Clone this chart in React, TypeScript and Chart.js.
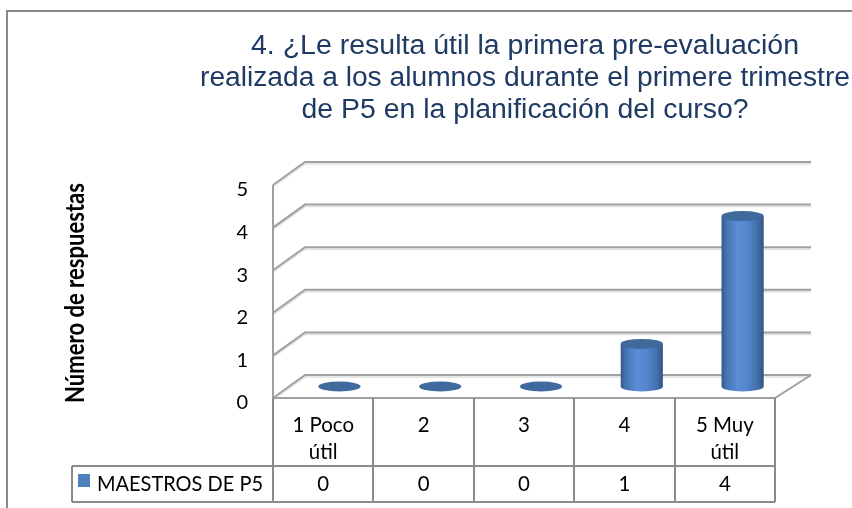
import React, { useEffect, useRef } from 'react';
import { Chart, registerables } from 'chart.js';

Chart.register(...registerables);

const TITLE_LINES = [
  '4. ¿Le resulta útil la primera pre-evaluación',
  'realizada a los alumnos durante el primere trimestre',
  'de P5 en la planificación del curso?',
];
const CATEGORIES = [['1 Poco', 'útil'], ['2'], ['3'], ['4'], ['5 Muy', 'útil']];
const SERIES_NAME = 'MAESTROS DE P5';
const VALUES = [0, 0, 0, 1, 4];
const Y_TICKS = [0, 1, 2, 3, 4, 5];
const Y_TITLE = 'Número de respuestas';

const DXL = 32;
const DXR = 36;
const DY = -23;

function fitText(ctx: CanvasRenderingContext2D, text: string, x: number, y: number, width: number | null, scaleX = 1) {
  const w = ctx.measureText(text).width;
  const s = width ? width / w : scaleX;
  ctx.save();
  ctx.translate(x, y);
  ctx.scale(s, 1);
  ctx.fillText(text, 0, 0);
  ctx.restore();
}

const excel3d = {
  id: 'excel3d',
  beforeDatasetsDraw(chart: any) {
    const { ctx, chartArea: a, scales } = chart;
    const y = scales.y;
    ctx.save();
    ctx.lineCap = 'butt';
    for (const v of Y_TICKS) {
      const yf = y.getPixelForValue(v);
      const yb = yf + DY;
      ctx.strokeStyle = '#e0e0e0';
      ctx.lineWidth = 1.5;
      ctx.beginPath();
      ctx.moveTo(a.left, yf + 2);
      ctx.lineTo(a.left + DXL, yb + 2);
      ctx.lineTo(a.right + DXR, yb + 2);
      ctx.stroke();
      ctx.strokeStyle = '#a0a0a0';
      ctx.lineWidth = 2;
      ctx.beginPath();
      ctx.moveTo(a.left, yf);
      ctx.lineTo(a.left + DXL, yb);
      ctx.lineTo(a.right + DXR, yb);
      ctx.stroke();
    }
    const y0 = y.getPixelForValue(0);
    const y5 = y.getPixelForValue(5);
    ctx.strokeStyle = '#a0a0a0';
    ctx.lineWidth = 2;
    ctx.beginPath();
    ctx.moveTo(a.left, y5);
    ctx.lineTo(a.left, y0);
    ctx.lineTo(a.right, y0);
    ctx.lineTo(a.right + DXR, y0 + DY);
    ctx.stroke();
    ctx.restore();
  },
  afterDatasetsDraw(chart: any) {
    const { ctx, chartArea: a } = chart;
    const meta = chart.getDatasetMeta(0);
    ctx.save();
    meta.data.forEach((el: any) => {
      const p = el.getProps(['x', 'y', 'base', 'width'], true);
      const dx = DXL + ((DXR - DXL) * (p.x - a.left)) / (a.right - a.left);
      const cx = p.x + dx / 2;
      const yb = p.base + DY / 2;
      const yt = p.y + DY / 2;
      const rx = p.width / 2;
      const ry = 5;
      if (Math.abs(yb - yt) < 0.5) {
        ctx.fillStyle = '#3f6a9e';
        ctx.beginPath();
        ctx.ellipse(cx, yb, rx, ry, 0, 0, Math.PI * 2);
        ctx.fill();
        return;
      }
      const g = ctx.createLinearGradient(cx - rx, 0, cx + rx, 0);
      g.addColorStop(0, '#34598a');
      g.addColorStop(0.12, '#4674b3');
      g.addColorStop(0.38, '#5a8dd4');
      g.addColorStop(0.6, '#5587cd');
      g.addColorStop(0.85, '#4470ad');
      g.addColorStop(1, '#30557f');
      ctx.fillStyle = g;
      ctx.beginPath();
      ctx.moveTo(cx - rx, yt);
      ctx.lineTo(cx - rx, yb);
      ctx.ellipse(cx, yb, rx, ry, 0, Math.PI, 0, true);
      ctx.lineTo(cx + rx, yt);
      ctx.closePath();
      ctx.fill();
      ctx.fillStyle = '#40699c';
      ctx.beginPath();
      ctx.ellipse(cx, yt, rx, ry, 0, 0, Math.PI * 2);
      ctx.fill();
    });
    ctx.restore();
  },
  afterDraw(chart: any) {
    const { ctx, chartArea: a } = chart;
    const n = CATEGORIES.length;
    const cw = (a.right - a.left) / n;
    const meta = chart.getDatasetMeta(0);
    const top = a.bottom;
    const mid = 466;
    const bot = 502;
    const legLeft = 72;
    ctx.save();
    ctx.strokeStyle = '#8a8a8a';
    ctx.lineWidth = 2;
    ctx.beginPath();
    for (let i = 0; i <= n; i++) {
      const xx = Math.round(a.left + i * cw);
      ctx.moveTo(xx, top);
      ctx.lineTo(xx, bot);
    }
    ctx.moveTo(legLeft, mid);
    ctx.lineTo(a.right, mid);
    ctx.moveTo(legLeft, bot);
    ctx.lineTo(a.right, bot);
    ctx.moveTo(legLeft, mid);
    ctx.lineTo(legLeft, bot);
    ctx.stroke();

    const TS = 0.95;
    ctx.fillStyle = '#000';
    ctx.font = '21.5px Lato';
    ctx.textAlign = 'center';
    ctx.textBaseline = 'alphabetic';
    meta.data.forEach((el: any, i: number) => {
      const lines = CATEGORIES[i];
      lines.forEach((ln, j) => fitText(ctx, ln, el.x, 432 + j * 27, null, TS));
      fitText(ctx, String(VALUES[i]), el.x, 491, null, TS);
    });
    ctx.fillStyle = '#4f81bd';
    ctx.fillRect(78, 474, 12, 13);
    ctx.fillStyle = '#000';
    ctx.textAlign = 'left';
    ctx.font = '22px Lato';
    fitText(ctx, SERIES_NAME, 97, 491, 166);

    ctx.fillStyle = '#1f3a63';
    ctx.font = '27px "Liberation Sans"';
    ctx.textAlign = 'center';
    const tcx = 525;
    const widths = [548, 650, 447];
    TITLE_LINES.forEach((ln, i) => fitText(ctx, ln, tcx, 54 + i * 32, widths[i]));

    ctx.fillStyle = '#000';
    ctx.font = 'bold 26px Lato';
    ctx.save();
    ctx.translate(84, 293);
    ctx.rotate(-Math.PI / 2);
    ctx.textAlign = 'center';
    fitText(ctx, Y_TITLE, 0, 0, 220);
    ctx.restore();

    ctx.strokeStyle = '#8a8a8a';
    ctx.lineWidth = 2;
    ctx.strokeRect(7, 11, 900, 600);
    ctx.restore();
  },
};

export default function App() {
  const ref = useRef<HTMLCanvasElement>(null);
  useEffect(() => {
    if (!ref.current) return;
    const chart = new Chart(ref.current, {
      type: 'bar',
      data: {
        labels: CATEGORIES,
        datasets: [
          {
            label: SERIES_NAME,
            data: VALUES,
            backgroundColor: 'rgba(0,0,0,0)',
            borderWidth: 0,
            barPercentage: 0.42,
            categoryPercentage: 1,
          },
        ],
      },
      options: {
        responsive: false,
        animation: false,
        devicePixelRatio: 1,
        layout: { padding: { left: 0, right: 77, top: 185, bottom: 110 } },
        plugins: { legend: { display: false }, title: { display: false }, tooltip: { enabled: false } },
        scales: {
          x: { type: 'category', display: false, offset: true },
          y: {
            type: 'linear',
            min: 0,
            max: 5,
            ticks: {
              stepSize: 1,
              padding: 25,
              labelOffset: 5,
              color: '#000',
              font: { family: 'Lato', size: 20 },
            },
            grid: { display: false, drawTicks: false },
            border: { display: false },
            afterFit: (scale: any) => {
              scale.width = 273;
            },
          },
        },
      },
      plugins: [excel3d],
    });
    return () => chart.destroy();
  }, []);
  return (
    <div style={{ position: 'absolute', left: 0, top: 0, width: 852, height: 508, background: '#fff' }}>
      <canvas ref={ref} width={852} height={508} style={{ display: 'block' }} />
    </div>
  );
}
